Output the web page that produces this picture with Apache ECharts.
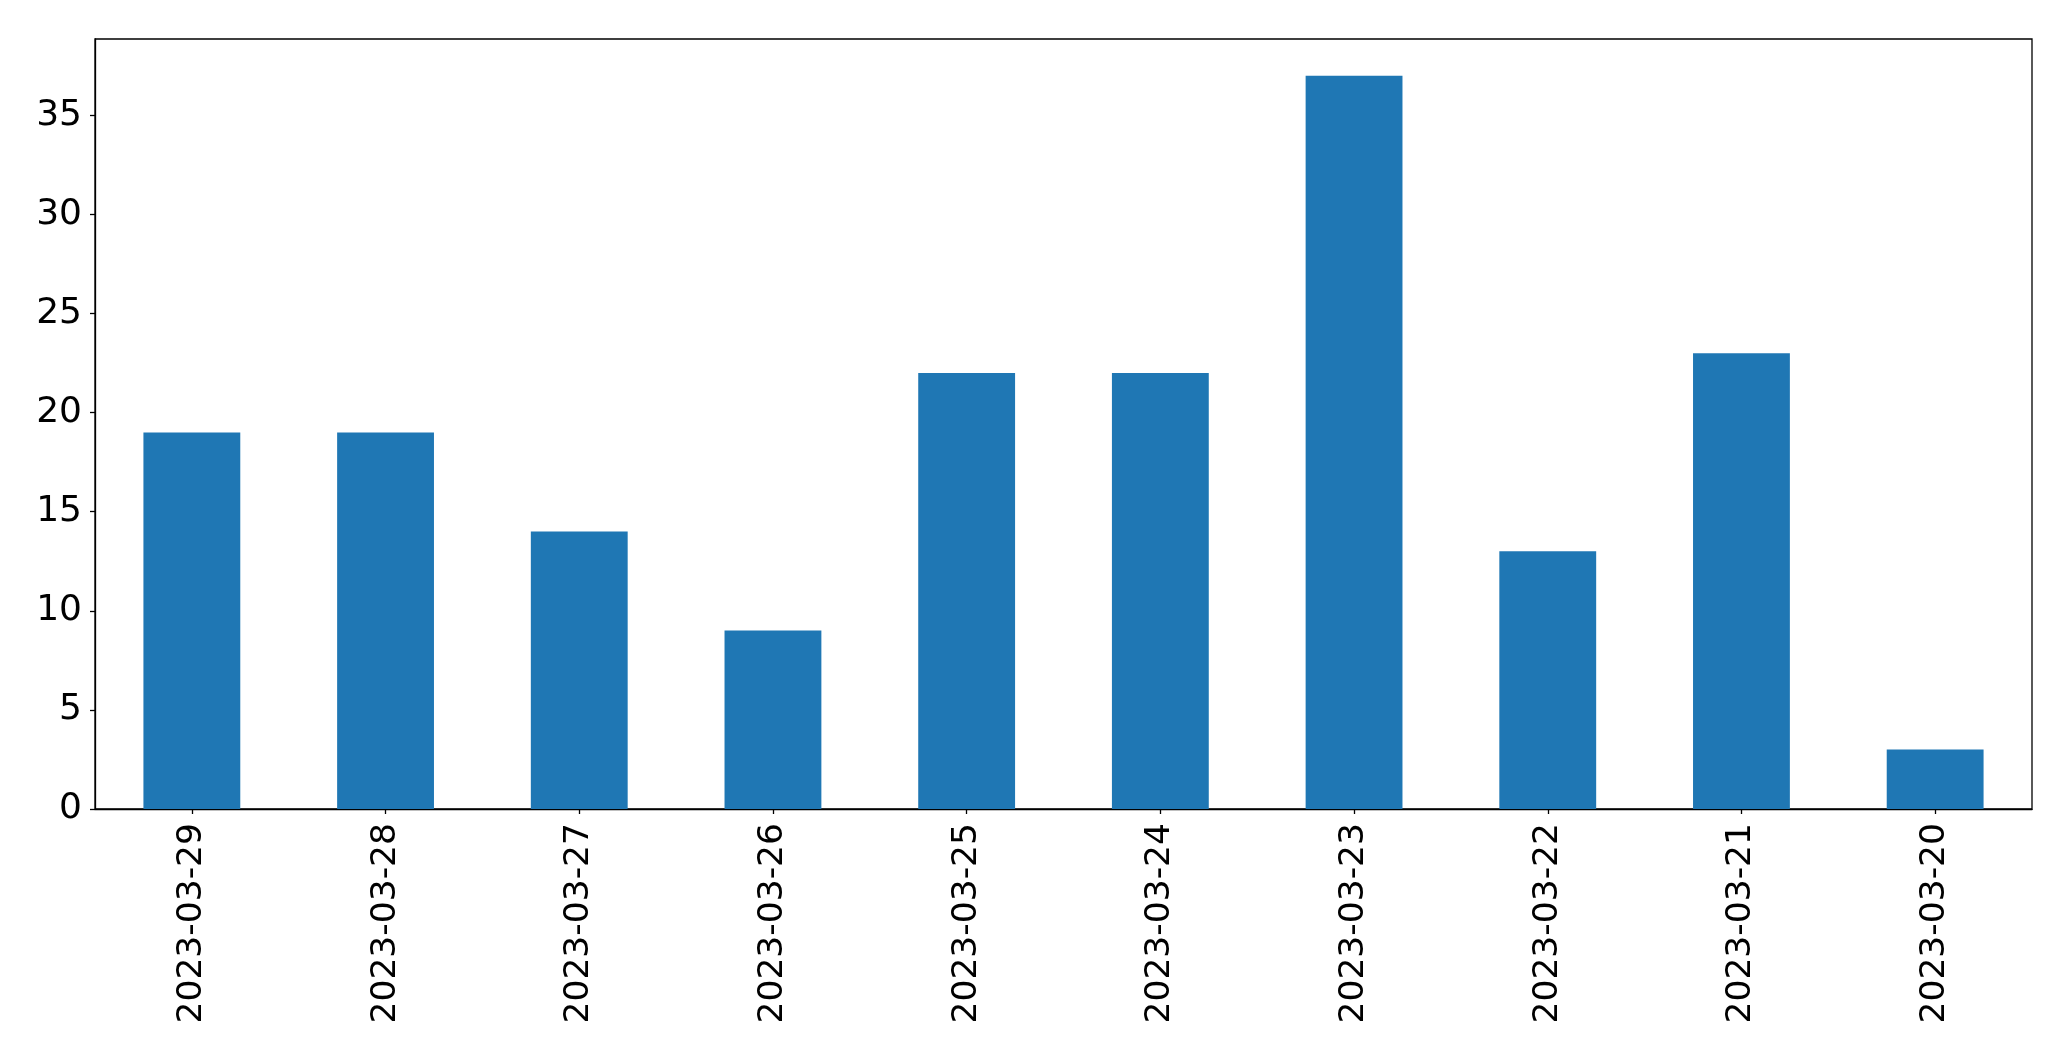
<!DOCTYPE html>
<html>
<head>
<meta charset="utf-8">
<script src="https://cdn.jsdelivr.net/npm/echarts@6/dist/echarts.min.js"></script>
<style>
html,body{margin:0;padding:0;background:#fff;}
#chart{width:2071px;height:1061px;}
</style>
</head>
<body>
<div id="chart"></div>
<script>
const categories = ['2023-03-29','2023-03-28','2023-03-27','2023-03-26','2023-03-25','2023-03-24','2023-03-23','2023-03-22','2023-03-21','2023-03-20'];
const values = [19, 19, 14, 9, 22, 22, 37, 13, 23, 3];
const yTicks = [0, 5, 10, 15, 20, 25, 30, 35];

const chart = echarts.init(document.getElementById('chart'), null, {renderer: 'canvas'});
const font = 'DejaVu Sans';
const yMax = Math.max(...values) * 1.05;
chart.setOption({
  animation: false,
  backgroundColor: '#ffffff',
  grid: {left: 95, top: 39, width: 1937, height: 770, show: true, borderColor: '#000', borderWidth: 1.3, backgroundColor: 'transparent'},
  xAxis: {
    type: 'category',
    data: categories,
    axisLine: {show: true, lineStyle: {color: '#000', width: 1.3}},
    axisTick: {show: true, alignWithLabel: true, length: 5, lineStyle: {color: '#000', width: 1.3}},
    axisLabel: {rotate: 90, fontSize: 34.5, fontFamily: font, color: '#000', margin: 14, interval: 0}
  },
  yAxis: {
    type: 'value',
    min: 0,
    max: yMax,
    splitLine: {show: false},
    axisLine: {show: true, lineStyle: {color: '#000', width: 1.3}},
    axisTick: {show: true, length: 5, customValues: yTicks, lineStyle: {color: '#000', width: 1.3}},
    axisLabel: {fontSize: 36, fontFamily: font, color: '#000', margin: 13, customValues: yTicks}
  },
  series: [{
    type: 'bar',
    data: values,
    barWidth: '50%',
    itemStyle: {color: '#1f77b4'}
  }]
});
</script>
</body>
</html>
